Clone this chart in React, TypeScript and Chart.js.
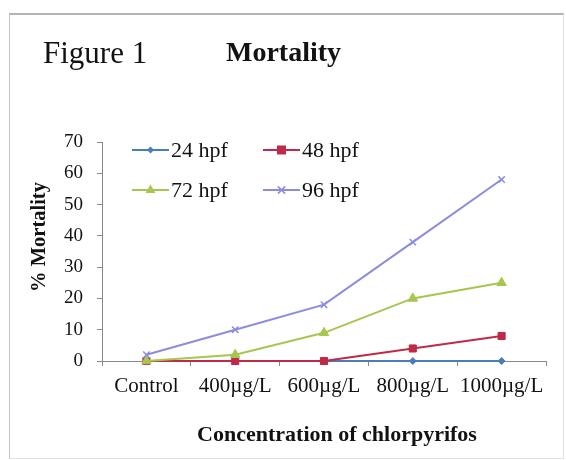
import React, { useEffect, useRef } from 'react';
import { Chart, registerables } from 'chart.js';

Chart.register(...registerables);

const categories = ['Control', '400µg/L', '600µg/L', '800µg/L', '1000µg/L'];
const seriesNames = ['24 hpf', '48 hpf', '72 hpf', '96 hpf'];
const hpf24 = [0, 0, 0, 0, 0];
const hpf48 = [0, 0, 0, 4, 8];
const hpf72 = [0, 2, 9, 20, 25];
const hpf96 = [2, 10, 18, 38, 58];
const yMin = 0;
const yMax = 70;
const yStep = 10;
const figureLabel = 'Figure 1';
const chartTitle = 'Mortality';
const xTitle = 'Concentration of chlorpyrifos';
const yTitle = '% Mortality';

const FONT = '"Liberation Serif", "Times New Roman", serif';
const TEXT = '#121212';
const AXIS = '#8a8a8a';

const colors = ['#4A7EBB', '#BE2A48', '#A6C64E', '#8C8CDE'];
const markers = ['rectRot', 'rect', 'triangle', 'crossRot'];
const radii = [3.5, 5, 5.5, 4.5];
const seriesData = [hpf24, hpf48, hpf72, hpf96];

function drawMarker(ctx: CanvasRenderingContext2D, style: string, x: number, y: number, r: number, color: string) {
  ctx.save();
  ctx.fillStyle = color;
  ctx.strokeStyle = color;
  ctx.lineWidth = 1.5;
  ctx.beginPath();
  if (style === 'rectRot') {
    ctx.moveTo(x, y - r);
    ctx.lineTo(x + r, y);
    ctx.lineTo(x, y + r);
    ctx.lineTo(x - r, y);
    ctx.closePath();
    ctx.fill();
  } else if (style === 'rect') {
    ctx.rect(x - r * 0.9, y - r * 0.9, 1.8 * r, 1.8 * r);
    ctx.fill();
  } else if (style === 'triangle') {
    ctx.moveTo(x, y - r);
    ctx.lineTo(x + r * 0.9, y + r * 0.55);
    ctx.lineTo(x - r * 0.9, y + r * 0.55);
    ctx.closePath();
    ctx.fill();
  } else {
    const d = r * 0.8;
    ctx.moveTo(x - d, y - d);
    ctx.lineTo(x + d, y + d);
    ctx.moveTo(x + d, y - d);
    ctx.lineTo(x - d, y + d);
    ctx.stroke();
  }
  ctx.restore();
}

const textPlugin = {
  id: 'customText',
  afterDraw(chart: any) {
    const ctx: CanvasRenderingContext2D = chart.ctx;
    ctx.save();
    ctx.fillStyle = TEXT;
    ctx.textAlign = 'left';
    ctx.textBaseline = 'alphabetic';
    ctx.font = `31px ${FONT}`;
    ctx.fillText(figureLabel, 43, 63);
    ctx.font = `bold 28px ${FONT}`;
    ctx.fillText(chartTitle, 226, 61);

    ctx.font = `bold 22px ${FONT}`;
    ctx.textAlign = 'center';
    ctx.textBaseline = 'middle';
    ctx.fillText(xTitle, 337, 435);

    ctx.save();
    ctx.font = `bold 20.5px ${FONT}`;
    ctx.translate(40, 237);
    ctx.rotate(-Math.PI / 2);
    ctx.fillText(yTitle, 0, 0);
    ctx.restore();

    // legend inside plot
    const colX = [132, 263];
    const rowY = [150, 190];
    chart.data.datasets.forEach((ds: any, i: number) => {
      const x0 = colX[i % 2];
      const y = rowY[Math.floor(i / 2)];
      ctx.strokeStyle = ds.borderColor;
      ctx.lineWidth = 2;
      ctx.beginPath();
      ctx.moveTo(x0, y);
      ctx.lineTo(x0 + 37, y);
      ctx.stroke();
      drawMarker(ctx, ds.pointStyle, x0 + 18.5, y, ds.pointRadius, ds.borderColor);
      ctx.fillStyle = TEXT;
      ctx.font = `22px ${FONT}`;
      ctx.textAlign = 'left';
      ctx.textBaseline = 'middle';
      ctx.fillText(ds.label, x0 + 39, y + 1);
    });
    ctx.restore();
  },
};

export default function App() {
  const ref = useRef<HTMLCanvasElement | null>(null);

  useEffect(() => {
    if (!ref.current) return;
    const chart = new Chart(ref.current, {
      type: 'line',
      data: {
        labels: categories,
        datasets: seriesNames.map((name, i) => ({
          label: name,
          data: seriesData[i],
          borderColor: colors[i],
          backgroundColor: colors[i],
          pointBackgroundColor: colors[i],
          pointBorderColor: colors[i],
          pointStyle: markers[i] as any,
          pointRadius: radii[i],
          pointBorderWidth: markers[i] === 'crossRot' ? 1.5 : 1,
          borderWidth: 2,
          tension: 0,
          clip: false as any,
          order: 4 - i,
        })),
      },
      options: {
        animation: false,
        responsive: false,
        maintainAspectRatio: false,
        layout: { padding: { top: 142, right: 20, bottom: 0, left: 0 } },
        plugins: {
          legend: { display: false },
          title: { display: false },
          tooltip: { enabled: false },
        },
        scales: {
          x: {
            type: 'category',
            offset: true,
            afterFit: (s: any) => {
              s.height = 99;
            },
            grid: {
              offset: true,
              drawOnChartArea: false,
              drawTicks: true,
              tickLength: 5,
              color: AXIS,
            },
            border: { display: true, color: AXIS, width: 1 },
            ticks: {
              color: TEXT,
              font: { family: FONT, size: 21 },
              padding: 8,
              maxRotation: 0,
              autoSkip: false,
            },
          },
          y: {
            min: yMin,
            max: yMax,
            afterFit: (s: any) => {
              s.width = 102;
            },
            grid: {
              drawOnChartArea: false,
              drawTicks: true,
              tickLength: 5,
              color: AXIS,
            },
            border: { display: true, color: AXIS, width: 1 },
            ticks: {
              stepSize: yStep,
              color: TEXT,
              font: { family: FONT, size: 19 },
              padding: 14,
            },
          },
        },
      },
      plugins: [textPlugin],
    });
    return () => chart.destroy();
  }, []);

  return (
    <div style={{ position: 'absolute', left: 0, top: 0, width: 566, height: 460, background: '#ffffff', overflow: 'hidden' }}>
      <div
        style={{
          position: 'absolute',
          left: 9,
          top: 13,
          width: 553,
          height: 443,
          borderLeft: '1px solid #c4c4c4',
          borderRight: '1px solid #e2e2e2',
          borderBottom: '1px solid #e2e2e2',
          borderTop: '2px solid #b4b4b4',
        }}
      />
      <canvas ref={ref} width={566} height={460} style={{ position: 'absolute', left: 0, top: 0, width: 566, height: 460 }} />
    </div>
  );
}
